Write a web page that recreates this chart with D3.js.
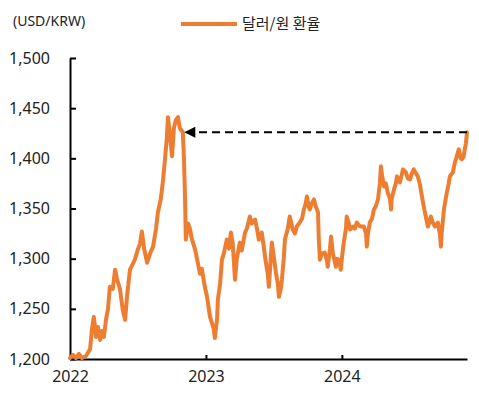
<!DOCTYPE html>
<html>
<head>
<meta charset="utf-8">
<script src="https://cdn.jsdelivr.net/npm/d3@7"></script>
<style>
  body { margin: 0; background: #fff; }
  text { font-family: "Noto Sans", "Noto Sans CJK KR", sans-serif; fill: #222; }
</style>
</head>
<body>
<div class="lineChart"></div>
<script>
var width = 479;
var height = 396;

var seriesName = "달러/원 환율";
var unitLabel = "(USD/KRW)";

// approx. USD/KRW readings
var dates = [
  "2022-01-01","2022-01-09","2022-01-17","2022-01-25","2022-02-02","2022-02-13","2022-02-24",
  "2022-03-01","2022-03-06","2022-03-12","2022-03-17","2022-03-23","2022-03-28","2022-04-02",
  "2022-04-08","2022-04-13","2022-04-18","2022-04-26","2022-05-02","2022-05-07","2022-05-15",
  "2022-05-23","2022-05-29","2022-06-03","2022-06-11","2022-06-19","2022-06-24","2022-07-03",
  "2022-07-08","2022-07-13","2022-07-19","2022-07-27","2022-08-04","2022-08-12","2022-08-20",
  "2022-08-25","2022-09-02","2022-09-08","2022-09-13","2022-09-18","2022-09-21","2022-09-26",
  "2022-10-02","2022-10-07","2022-10-12","2022-10-18","2022-10-23","2022-10-31","2022-11-03",
  "2022-11-06","2022-11-08","2022-11-14","2022-11-19","2022-11-24","2022-12-03","2022-12-08",
  "2022-12-16","2022-12-21","2022-12-29",
  "2023-01-04","2023-01-12","2023-01-17","2023-01-22","2023-01-25","2023-01-31","2023-02-02",
  "2023-02-08","2023-02-13","2023-02-18","2023-02-26","2023-03-04","2023-03-09","2023-03-14",
  "2023-03-20","2023-03-25","2023-04-02","2023-04-07","2023-04-16","2023-04-21","2023-04-29",
  "2023-05-04","2023-05-13","2023-05-18","2023-05-23","2023-05-31","2023-06-06","2023-06-11",
  "2023-06-16","2023-06-19","2023-06-24","2023-06-27","2023-07-03","2023-07-08","2023-07-13",
  "2023-07-16","2023-07-21","2023-07-24","2023-07-29","2023-08-01","2023-08-09","2023-08-14",
  "2023-08-22","2023-08-28","2023-09-02","2023-09-10","2023-09-16","2023-09-21","2023-09-26",
  "2023-09-29","2023-10-04","2023-10-07","2023-10-12","2023-10-18","2023-10-23","2023-10-29",
  "2023-10-31","2023-11-03","2023-11-08","2023-11-16","2023-11-22","2023-11-24","2023-11-30",
  "2023-12-03","2023-12-08","2023-12-16","2023-12-19","2023-12-24","2023-12-29",
  "2024-01-01","2024-01-06","2024-01-12","2024-01-14","2024-01-20","2024-01-23","2024-01-31",
  "2024-02-05","2024-02-10","2024-02-16","2024-02-21","2024-02-29","2024-03-06","2024-03-08",
  "2024-03-11","2024-03-16","2024-03-22","2024-03-27","2024-04-01","2024-04-07","2024-04-12",
  "2024-04-15","2024-04-17","2024-04-23","2024-04-28","2024-05-03","2024-05-09","2024-05-12",
  "2024-05-14","2024-05-20","2024-05-25","2024-05-28","2024-06-05","2024-06-10","2024-06-13",
  "2024-06-21","2024-06-26","2024-07-02","2024-07-07","2024-07-12","2024-07-18","2024-07-23",
  "2024-07-28","2024-08-03","2024-08-08","2024-08-11","2024-08-19","2024-08-24","2024-08-27",
  "2024-09-01","2024-09-07","2024-09-15","2024-09-20","2024-09-23","2024-09-25","2024-10-01",
  "2024-10-06","2024-10-09","2024-10-14","2024-10-17","2024-10-25","2024-10-30","2024-11-02",
  "2024-11-07","2024-11-10","2024-11-15","2024-11-18","2024-11-23","2024-11-26","2024-11-29",
  "2024-12-02"
];
var rates = [
  1201,1204,1201,1205,1201,1203,1210,
  1230,1242,1222,1232,1219,1228,1222,
  1240,1250,1272,1270,1289,1280,1270,
  1248,1239,1262,1289,1295,1299,1310,
  1315,1327,1310,1296,1305,1312,1330,
  1346,1360,1379,1399,1420,1441,1425,
  1402,1430,1438,1441,1430,1426,1400,
  1359,1319,1335,1330,1320,1309,1300,
  1285,1290,1272,
  1262,1242,1236,1230,1221,1240,1259,
  1275,1299,1305,1319,1310,1326,1315,
  1279,1300,1316,1308,1326,1330,1342,
  1335,1339,1330,1319,1326,1310,1296,
  1285,1272,1300,1316,1300,1286,1275,
  1262,1270,1279,1300,1319,1330,1342,
  1329,1325,1332,1336,1340,1349,1355,
  1362,1352,1349,1355,1359,1352,1346,
  1320,1299,1305,1306,1298,1292,1310,
  1322,1305,1292,1300,1299,1289,
  1300,1316,1330,1342,1335,1329,1332,
  1330,1336,1333,1332,1332,1325,1312,
  1325,1336,1340,1349,1352,1359,1375,
  1392,1385,1372,1375,1366,1360,1349,
  1360,1369,1375,1382,1376,1384,1389,
  1386,1380,1379,1385,1389,1385,1382,
  1375,1362,1352,1346,1332,1338,1342,
  1336,1332,1336,1325,1312,1325,1349,
  1360,1366,1375,1382,1386,1395,1399,
  1405,1409,1400,1399,1402,1409,1415,
  1426
];

var yTicks = [1200, 1250, 1300, 1350, 1400, 1450, 1500];
var xTicks = ["2022-01-01", "2023-01-01", "2024-01-01"];

// dashed arrow: current level back to the 2022 peak
var refLevel = 1426;
var refFrom = "2024-12-02";
var refTo = "2022-11-04";

var parse = d3.timeParse("%Y-%m-%d");
var data = dates.map(function(d, i) {
    return { date: parse(d), value: rates[i] };
});

var plotLeft = 70, plotRight = 467, plotTop = 58, plotBottom = 359;

var x = d3.scaleTime()
    .domain([parse("2022-01-01"), parse("2024-12-02")])
    .range([plotLeft, plotRight]);
var y = d3.scaleLinear()
    .domain([1200, 1500])
    .range([plotBottom, plotTop]);

var svg = d3.select(".lineChart")
    .append("svg")
    .attr("width", width)
    .attr("height", height);

svg.append("rect")
    .attr("width", width)
    .attr("height", height)
    .attr("fill", "white");

// unit label
svg.append("text")
    .attr("x", 13)
    .attr("y", 26)
    .style("font-size", "14px")
    .text(unitLabel);

// legend
svg.append("line")
    .attr("x1", 181).attr("x2", 237)
    .attr("y1", 24).attr("y2", 24)
    .attr("stroke", "#ED7D31")
    .attr("stroke-width", 4);
svg.append("text")
    .attr("x", 242)
    .attr("y", 29)
    .style("font-size", "15px")
    .style("font-family", "'Noto Sans CJK KR', sans-serif")
    .text(seriesName);

// y axis, ticks pointing into the plot
var yAxis = d3.axisLeft(y)
    .tickValues(yTicks)
    .tickSizeInner(-6)
    .tickSizeOuter(0)
    .tickPadding(20)
    .tickFormat(d3.format(","));

var gy = svg.append("g")
    .attr("transform", "translate(" + plotLeft + ",0)")
    .call(yAxis);
gy.select(".domain").attr("stroke", "#000").attr("stroke-width", 2);
gy.selectAll(".tick line").attr("stroke", "#000").attr("stroke-width", 2);
gy.selectAll(".tick text")
    .style("font-size", "16px")
    .attr("fill", "#222")
    .attr("font-family", null);

// x axis, small ticks pointing up
var xAxis = d3.axisBottom(x)
    .tickValues(xTicks.map(parse))
    .tickSizeInner(-4)
    .tickSizeOuter(0)
    .tickPadding(12)
    .tickFormat(d3.timeFormat("%Y"));

var gx = svg.append("g")
    .attr("transform", "translate(0," + plotBottom + ")")
    .call(xAxis);
gx.select(".domain").attr("stroke", "#000").attr("stroke-width", 2);
gx.selectAll(".tick line").attr("stroke", "#000").attr("stroke-width", 2);
gx.selectAll(".tick line").filter(function(d, i) { return i == 0; }).remove();
gx.selectAll(".tick text")
    .style("font-size", "16px")
    .attr("fill", "#222")
    .attr("font-family", null);

// series
var line = d3.line()
    .x(function(d) { return x(d.date); })
    .y(function(d) { return y(d.value); });

svg.append("path")
    .datum(data)
    .attr("d", line)
    .attr("fill", "none")
    .attr("stroke", "#ED7D31")
    .attr("stroke-width", 4)
    .attr("stroke-linejoin", "round")
    .attr("stroke-linecap", "round");

// reference arrow
svg.append("line")
    .attr("x1", x(parse(refFrom)))
    .attr("x2", x(parse(refTo)) + 10)
    .attr("y1", y(refLevel))
    .attr("y2", y(refLevel))
    .attr("stroke", "#000")
    .attr("stroke-width", 2)
    .attr("stroke-dasharray", "8,5");

svg.append("path")
    .attr("d", "M" + x(parse(refTo)) + "," + y(refLevel) +
        " l11,-5.5 l0,11 Z")
    .attr("fill", "#000");
</script>
</body>
</html>
